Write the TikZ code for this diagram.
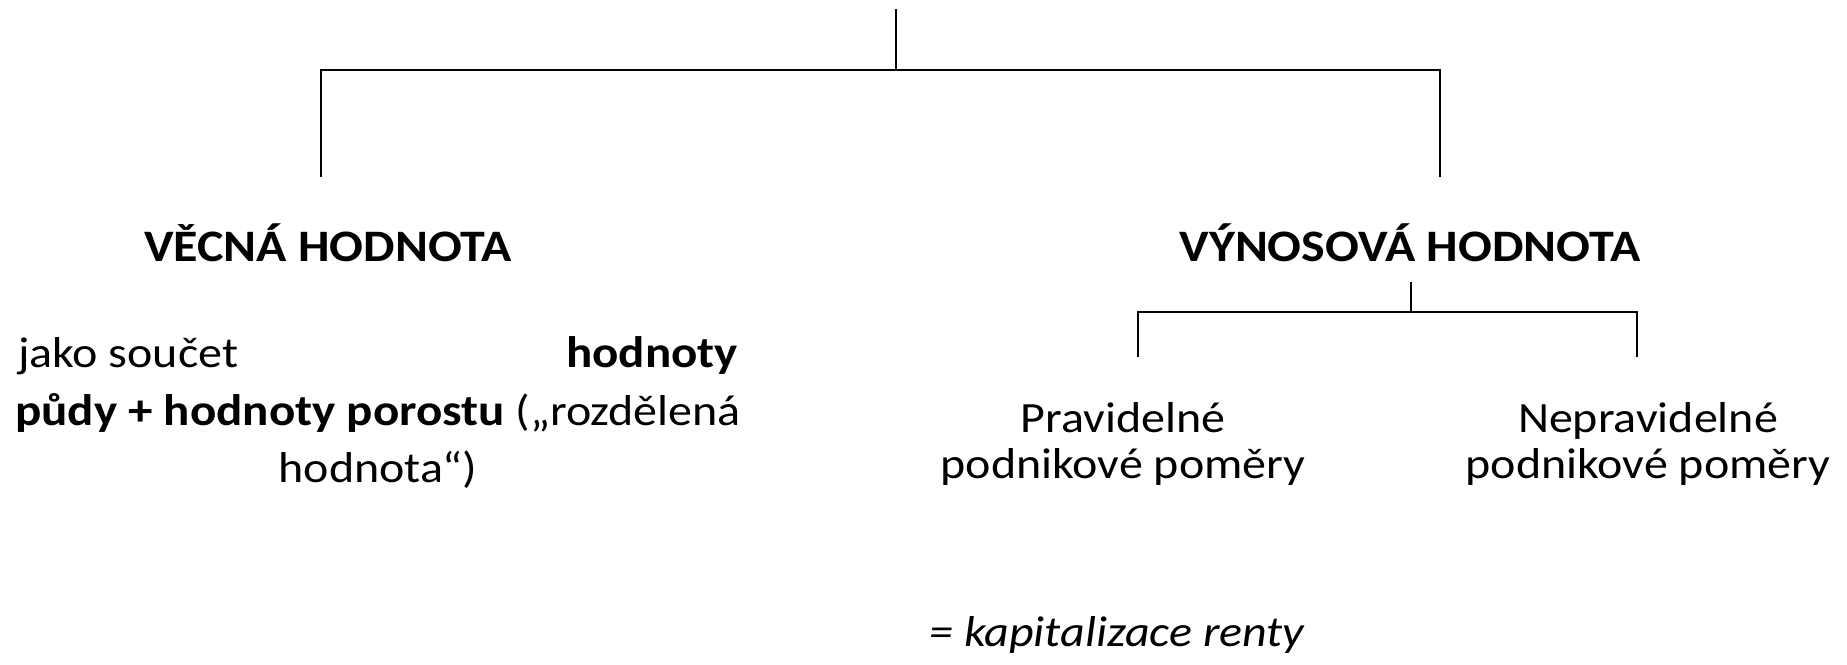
\documentclass[tikz,border=0pt]{standalone}
\usepackage{graphicx}
\usepackage{fontspec}
\setmainfont{Carlito}
\newcommand\vsq[1]{\scalebox{1}[0.9]{#1}}
\newcommand\bfx[1]{{\fontsize{50bp}{58bp}\selectfont\bfseries #1}}
\newcommand\bfy[1]{{\fontsize{49bp}{58bp}\selectfont\bfseries #1}}
\begin{document}
\begin{tikzpicture}[x=1bp,y=-1bp,
  every node/.style={inner sep=0pt, outer sep=0pt},
  txt/.style={font=\fontsize{48bp}{58bp}\selectfont, anchor=base},
  link/.style={line width=1.7bp, black}]
\useasboundingbox (0,0) rectangle (1847,665);
% headings
\node[txt] (vecna) at (328,261) {\vsq{\bfx{VĚCNÁ HODNOTA}}};
\node[txt] (vynos) at (1410,261) {\vsq{\bfx{VÝNOSOVÁ HODNOTA}}};
% left description
\node[txt, anchor=base west] (vt1a) at (18,367) {\vsq{jako součet}};
\node[txt, anchor=base east] (vt1b) at (738,367) {\vsq{\bfy{hodnoty}}};
\node[txt] (vt2) at (378,425) {\vsq{\bfy{půdy + hodnoty porostu} („rozdělená}};
\node[txt] (vt3) at (378,482) {\vsq{hodnota“)}};
% right children
\node[txt] (prav) at (1123,432) {\vsq{Pravidelné}};
\node[txt] (prav2) at (1123,478) {\vsq{podnikové poměry}};
\node[txt] (neprav) at (1648,432) {\vsq{Nepravidelné}};
\node[txt] (neprav2) at (1648,478) {\vsq{podnikové poměry}};
\node[txt] (kap) at (1117,646) {\vsq{\itshape = kapitalizace renty}};
% top bracket
\coordinate (root) at (896,9);
\coordinate (rootj) at (896,70);
\coordinate (lend) at (321,177);
\coordinate (rend) at (1440,177);
\draw[link] (root) -- (rootj);
\draw[link] (lend) |- (rootj) -| (rend);
% second bracket
\coordinate (vroot) at (1411,282);
\coordinate (vj) at (1411,312);
\coordinate (vl) at (1138,357);
\coordinate (vr) at (1637,357);
\draw[link] (vroot) -- (vj);
\draw[link] (vl) |- (vj) -| (vr);
\end{tikzpicture}
\end{document}
